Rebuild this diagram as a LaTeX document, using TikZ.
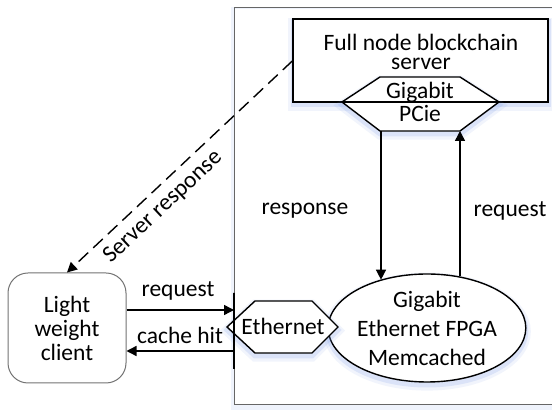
\documentclass[tikz,border=0pt]{standalone}
\usepackage{fontspec}
\setmainfont{Carlito}
\usetikzlibrary{arrows.meta,shapes.geometric}
\definecolor{glowblue}{RGB}{120,155,230}
\begin{document}
\begin{tikzpicture}[x=0.5pt,y=-0.5pt,
  every node/.style={font=\fontsize{11.75}{12}\selectfont, inner sep=0pt, align=center},
  ln/.style={line width=0.7pt, draw=black},
  arr/.style={ln, -{Triangle[length=5pt,width=5pt]}},
  glow/.style={
    preaction={draw=glowblue, draw opacity=0.10, line width=5pt, transform canvas={yshift=-1.8pt}},
    preaction={draw=glowblue, draw opacity=0.18, line width=2.5pt, transform canvas={yshift=-1.5pt}}},
  softglow/.style={
    preaction={draw=glowblue, draw opacity=0.12, line width=3pt, transform canvas={yshift=-1.2pt}}},
  frame/.style={draw=black!60, line width=0.5pt},
]
\useasboundingbox (0,0) rectangle (552,410);

% enclosing frame of the FPGA side
\draw[frame, softglow] (234,8) rectangle (640,405);
\fill[white] (235,9) rectangle (639,404);

% full node server and its PCIe interface
\node[ln, glow, fill=white, rectangle, minimum width=127.5pt, minimum height=41.5pt]
  (server) at (420.5,60.5) {};
\node[font=\fontsize{11.75}{9.5}\selectfont] (servertext) at (421,52) {Full node blockchain\\server};
\draw[ln, glow, fill=white] (342,102) -- (380,77) -- (460,77) -- (499,102)
  -- (460,131) -- (380,131) -- cycle;
\draw[ln] (342,102) -- (499,102);
\node[font=\fontsize{11.75}{10}\selectfont] (pcie) at (420,102) {Gigabit\\PCie};
\coordinate (pcieL) at (381,131);
\coordinate (pcieR) at (460,131);

% FPGA memcached
\node[ln, glow, fill=white, ellipse, minimum width=97pt, minimum height=54pt,
  font=\fontsize{11.75}{14.5}\selectfont]
  (fpga) at (427,328) {Gigabit\\Ethernet FPGA\\Memcached};

% ethernet port
\draw[ln, glow, fill=white] (227,327) -- (255,301) -- (312,301) -- (338,327)
  -- (312,353) -- (255,353) -- cycle;
\node (eth) at (283,326) {Ethernet};
\node[ln, draw, minimum height=38pt, minimum width=0pt, inner sep=0pt] (port) at (234,331) {};

% light weight client
\node[draw=black!55, line width=0.5pt, fill=white, rounded corners=10pt,
  minimum width=59pt, minimum height=55pt, font=\fontsize{11.75}{12}\selectfont]
  (client) at (67,328) {Light\\weight\\client};

% connectors
\coordinate (reqL) at ([yshift=9pt]client.east);
\coordinate (hitL) at ([yshift=-11.5pt]client.east);
\draw[arr] (reqL) -- (reqL -| port);
\draw[arr] (hitL -| port) -- (hitL);
\node (reqlbl) at (178,291) {request};
\node (hitlbl) at (180,335) {cache hit};

\draw[arr] (pcieL) -- (pcieL |- fpga.134);
\draw[arr] (pcieR |- fpga.57) -- (pcieR);
\node (resplbl) at (305,211) {response};
\node (reqlbl2) at (510,211) {request};

\coordinate (srvL) at (server.west |- 0,61);
\draw[arr, dash pattern=on 6.5pt off 3.5pt] (srvL) -- (client.north);
\node[rotate=43] (srvresp) at (163,207) {Server response};
\end{tikzpicture}
\end{document}
